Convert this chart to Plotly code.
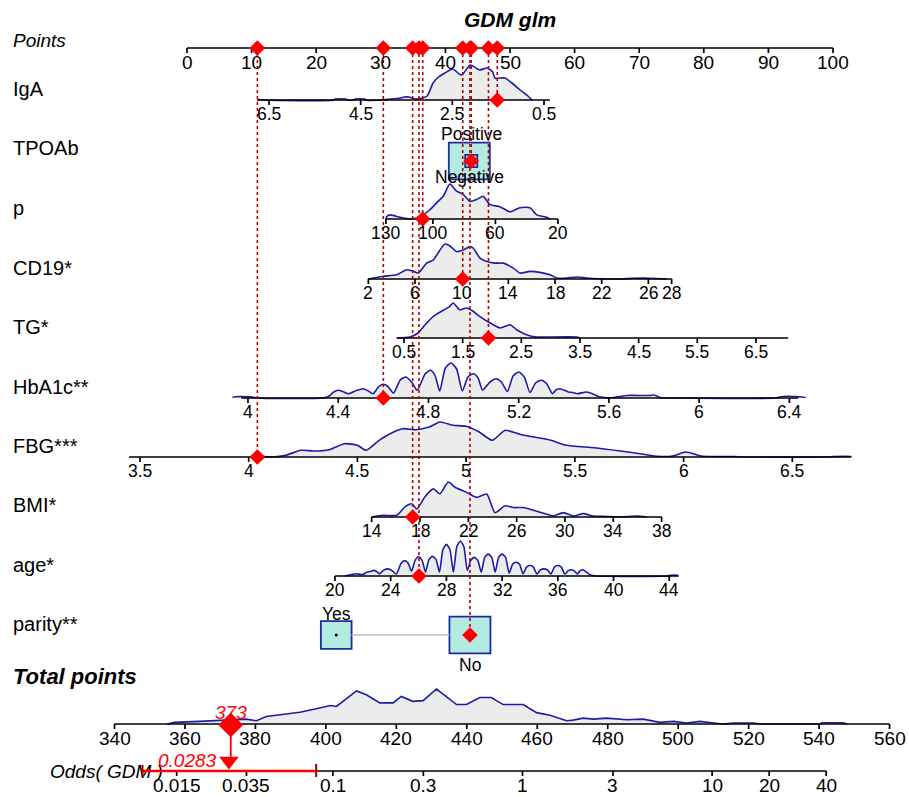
import numpy as np
import plotly.graph_objects as go

# ======================= DATA =======================
title_text = "GDM glm"
points_ticks = [0, 10, 20, 30, 40, 50, 60, 70, 80, 90, 100]

# Continuous predictors.  scale = [a, b] : points = a + b * value
iga_ticks = [6.5, 4.5, 2.5, 0.5]
iga_scale = [58.81, -7.095]
iga_lim = [6.76, 0.37]
iga_obs = 1.52
iga_dens_v = [6.74, 6.70, 6.62, 5.08, 5.06, 4.82, 4.80, 4.64, 4.62, 4.41, 4.39, 4.02, 3.85, 3.62, 3.55, 3.45,
              3.30, 3.20, 3.05, 2.92, 2.80, 2.66, 2.49, 2.35, 2.29, 2.11, 1.95, 1.90, 1.74, 1.62, 1.57, 1.35,
              1.20, 1.02, 0.85, 0.76]
iga_dens_h = [0, 0.5, 0, 0, 1, 1, 0, 0, 1, 1, 0, 0, 1, 2, 3, 3, 1, 1.5, 4, 17, 23, 27, 31, 26, 25, 35, 31, 30,
              32, 28, 22, 22, 17, 10, 4, 0]

p_ticks = [130, 100, 60, 20]
p_scale = [62.27, -0.2421]
p_lim = [130, 20]
p_obs = 106.5
p_dens_v = [130, 129.6, 127.4, 121, 114.7, 108.3, 101.9, 97.6, 93.4, 89.1, 84.8, 80.6, 76.3, 72.0, 67.8,
            63.5, 57.1, 50.7, 44.3, 37.9, 33.6, 27.2, 25.1]
p_dens_h = [0, 2.3, 4, 1.7, 0, 2.3, 9, 15.7, 22, 34, 27, 24, 17, 19, 22, 14, 12, 7, 11, 11, 4, 1.7, 0]

cd19_ticks = [2, 6, 10, 14, 18, 22, 26, 28]
cd19_scale = [24.46, 1.806]
cd19_lim = [2, 28]
cd19_obs = 10.09
cd19_dens_v = [2.0, 2.43, 3.29, 4.43, 5.29, 5.86, 6.28, 7.0, 7.57, 8.14, 8.57, 9.0, 9.57, 10.14, 10.71, 11.0,
               11.57, 12.15, 12.86, 13.57, 14.43, 15.0, 15.86, 16.71, 17.57, 18.14, 19.0, 19.86, 20.71, 21.85,
               23.5, 24.7, 26.1, 27.6]
cd19_dens_h = [0, 1, 2.7, 4.3, 9.3, 7.7, 6, 16, 19.3, 29.3, 35.3, 33.3, 27.7, 29.3, 32.7, 31, 21, 17.7, 16, 16,
               11, 6, 7.7, 6.7, 4.3, 1, 1, 2, 1, 0.3, 0, 0.7, 0.8, 0]

tg_ticks = [0.5, 1.5, 2.5, 3.5, 4.5, 5.5, 6.5]
tg_scale = [29.05, 9.08]
tg_lim = [0.376, 7.05]
tg_obs = 1.94
tg_dens_v = [0.38, 0.60, 0.74, 0.86, 1.0, 1.17, 1.28, 1.34, 1.45, 1.57, 1.68, 1.79, 1.97, 2.14, 2.31, 2.42,
             2.59, 2.76, 2.93, 3.44, 3.5]
tg_dens_h = [0, 1, 5, 13.3, 21.7, 27.7, 31.7, 35, 28.3, 30, 26.7, 21.7, 15, 10, 13.3, 8.3, 3.3, 1, 1, 1, 0]

hba_ticks = [4, 4.4, 4.8, 5.2, 5.6, 6, 6.4]
hba_scale = [-130.24, 34.92]
hba_lim = [3.97, 6.44]
hba_obs = 4.60
hba_dens_v = [3.935, 4.02, 4.04, 4.33, 4.36, 4.38, 4.40, 4.42, 4.445, 4.48, 4.51, 4.53, 4.555, 4.58, 4.60,
              4.62, 4.645, 4.675, 4.70, 4.725, 4.75, 4.785, 4.81, 4.83, 4.85, 4.875, 4.90, 4.925, 4.95, 4.975,
              5.00, 5.02, 5.04, 5.075, 5.10, 5.125, 5.15, 5.175, 5.20, 5.225, 5.25, 5.275, 5.30, 5.325, 5.35,
              5.365, 5.38, 5.40, 5.42, 5.44, 5.46, 5.50, 5.53, 5.55, 5.58, 5.62, 5.68, 5.78, 5.80, 5.83, 5.90,
              6.34, 6.37, 6.42, 6.47]
hba_dens_h = [1, 1, 0, 0, 2, 6, 7.7, 6.5, 4.3, 7.5, 9.3, 7.5, 4.3, 11.5, 13.7, 11.5, 5, 18, 21, 16, 7.7, 24,
              27.7, 22, 7, 30, 35, 29, 7, 21, 24.3, 20, 8, 16.5, 19.3, 15.5, 6.5, 22, 26, 21, 5.5, 15, 17.7, 14,
              4.3, 8, 9.3, 8, 6, 5.5, 4.3, 6, 4, 1.7, 0.5, 0.5, 2.5, 2.5, 3, 0.3, 0, 0, 1.5, 1.5, 0.5]

fbg_ticks = [3.5, 4, 4.5, 5, 5.5, 6, 6.5]
fbg_scale = [-125.09, 33.66]
fbg_lim = [3.45, 6.77]
fbg_obs = 4.04
fbg_dens_v = [4.02, 4.04, 4.11, 4.17, 4.24, 4.30, 4.37, 4.44, 4.50, 4.54, 4.60, 4.65, 4.71, 4.77, 4.83, 4.88,
              4.94, 5.00, 5.06, 5.12, 5.18, 5.25, 5.31, 5.39, 5.46, 5.59, 5.71, 5.83, 5.88, 5.95, 6.01, 6.08,
              6.14, 6.23, 6.29, 6.66, 6.69, 6.77]
fbg_dens_h = [0, 0.7, 0, 1.7, 6.7, 6, 7.3, 13.3, 11.7, 6.7, 16.7, 23.3, 28.3, 27.3, 30, 35, 31.7, 30.7, 25,
              16.7, 26.7, 22.5, 20, 16.7, 11.7, 9.3, 6, 2.3, 0.7, 1, 5, 1, 0.5, 0.5, 0, 0, 0.4, 0.4]

bmi_ticks = [14, 18, 22, 26, 30, 34, 38]
bmi_scale = [2.41, 1.870]
bmi_lim = [14, 38]
bmi_obs = 17.39
bmi_dens_v = [14.0, 14.96, 16.07, 16.76, 17.31, 17.73, 18.41, 19.10, 19.65, 20.34, 20.90, 21.86, 22.69, 23.52,
              24.21, 25.03, 25.72, 26.55, 27.38, 28.35, 29.03, 29.86, 30.69, 31.52, 32.34, 33.45, 34.55, 35.94,
              36.76]
bmi_dens_h = [0, 1.7, 1.7, 10, 13, 8, 20, 27.7, 23, 34.5, 29.3, 24.3, 19.3, 22.7, 4.3, 11, 9.3, 9.3, 6.7, 3.3,
              1, 4.3, 1, 3.3, 1, 0.5, 0, 1, 0]

age_ticks = [20, 24, 28, 32, 36, 40, 44]
age_scale = [-20.21, 2.156]
age_lim = [20, 44.66]
age_obs = 26.03
age_dens_v = [20.7, 21.2, 21.5, 21.8, 22.0, 22.3, 22.55, 22.8, 23.0, 23.2, 23.5, 23.8, 24.1, 24.4, 24.75, 25.0,
              25.25, 25.5, 25.75, 26.0, 26.25, 26.5, 26.75, 27.0, 27.25, 27.5, 27.75, 28.0, 28.25, 28.5, 28.75,
              29.0, 29.25, 29.5, 29.75, 30.0, 30.25, 30.5, 30.75, 31.0, 31.25, 31.5, 31.75, 32.0, 32.25, 32.5,
              32.75, 33.0, 33.25, 33.5, 33.75, 34.0, 34.25, 34.5, 34.75, 35.0, 35.25, 35.5, 35.75, 36.0, 36.25,
              36.5, 36.75, 37.0, 37.2, 37.4, 37.6, 37.8, 38.05, 38.4, 38.7, 43.9, 44.1, 44.6]
age_dens_h = [0, 1.5, 2.3, 1.8, 1.5, 4, 4.5, 5.7, 4.5, 2.3, 6, 7.3, 5.5, 2, 13, 15.7, 13, 5, 16, 19.7, 16, 4, 17,
              20, 17, 4, 27, 32.3, 27, 4, 30, 35.7, 30, 5.7, 16, 19, 16, 4, 19, 22.3, 19, 4, 19, 22.3, 19, 3, 12,
              14, 12, 2.3, 9, 10.7, 9, 2, 6.3, 7.3, 6.3, 2, 9, 10.7, 9, 2, 5.5, 6.3, 5, 2, 5.5, 6.3, 4, 0.7, 0,
              0, 0.7, 0.7]

# Categorical predictors
tpo_levels = ["Positive", "Negative"]
tpo_points = [44.0, 43.7]
tpo_freq = [0.08, 0.92]
tpo_obs = "Positive"

par_levels = ["Yes", "No"]
par_points = [23.1, 43.8]
par_freq = [0.36, 0.64]
par_obs = "No"

# Total points and odds
total_ticks = [340, 360, 380, 400, 420, 440, 460, 480, 500, 520, 540, 560]
total_obs = 373
total_dens_v = [355, 357.0, 364.1, 371.7, 377.4, 380.3, 383.1, 385.9, 392.6, 396.3, 401.3, 403.0, 408.7, 411.5,
                415.3, 419.1, 421.4, 424.7, 427.6, 431.4, 434.2, 437.1, 439.9, 443.7, 447.0, 450.3, 456.0, 459.8,
                463.6, 468.3, 470.2, 473.0, 475.9, 479.7, 485.4, 490.1, 494.8, 498.7, 502.4, 506.2, 510.0, 512.7,
                515.7, 521.3, 523.3, 540.3, 540.8, 546.8, 548.0]
total_dens_h = [0, 1.7, 2.7, 4.3, 5, 3.3, 7.7, 9, 12, 15, 19, 18, 34, 30, 21.7, 21.7, 28.3, 23.3, 24, 36, 28.3,
                20, 20, 27.3, 27.3, 20, 20, 11.7, 9, 3.3, 4, 6, 5, 6, 4.3, 5, 1.7, 2.7, 1, 2.7, 1, 0, 1, 1, 0, 0,
                1.3, 1.3, 0]

odds_ticks = [0.015, 0.035, 0.1, 0.3, 1, 3, 10, 20, 40]
odds_lim = [0.0099, 40]
odds_obs = 0.0283
odds_ci = [0.0099, 0.0816]

# ======================= STYLE / LAYOUT =======================
W, H = 909, 797
FONT = "Liberation Sans, Arial, sans-serif"
PX0, PXS = 187.0, 6.46            # pixel of 0 points, pixels per point
TOT0, TOTS = 114.5, 3.523          # pixel of 340 total points, pixels per total point
ODD1, ODDS = 522.5, 189.6          # pixel of odds 1, pixels per decade
DENS_MAX = 35
DENS_FILL = "#ECECEC"
DENS_LINE = "#1C1CA8"
BOX_FILL = "#B4EBE1"
BOX_LINE = "#1F2A9E"
RED = "#FF0000"
DOT_RED = "#B50000"
BIG_BOX = 41
AXW = 1.7

rows = {"Points": 48, "IgA": 100, "TPOAb": 161, "p": 219, "CD19*": 279, "TG*": 338, "HbA1c**": 398,
        "FBG***": 457, "BMI*": 517, "age*": 576, "parity**": 635, "Total": 724, "Odds": 771}
label_y = {"IgA": 89, "TPOAb": 148, "p": 208, "CD19*": 268, "TG*": 327, "HbA1c**": 387, "FBG***": 446,
           "BMI*": 505, "age*": 565, "parity**": 624}
cat_label_dy = {"Positive": -27, "Negative": 16, "Yes": -21, "No": 30}

fig = go.Figure()


def pts(scale, v):
    return scale[0] + scale[1] * np.asarray(v, dtype=float)


def fmt(v):
    return f"{v:g}"


def txt(x, y, s, size, xref="x", color="black", xanchor="center", yanchor="middle"):
    fig.add_annotation(x=x, y=y, xref=xref, yref="y", text=s, showarrow=False,
                       font=dict(family=FONT, size=size, color=color),
                       xanchor=xanchor, yanchor=yanchor)


def density(xs, base, hs, xaxis="x", shape="spline", smoothing=0.7):
    hs = np.asarray(hs, dtype=float)
    ys = base - DENS_MAX * hs / hs.max()
    x = [xs[0]] + list(xs) + [xs[-1]]
    y = [base] + list(ys) + [base]
    fig.add_trace(go.Scatter(x=x, y=y, mode="lines", fill="toself", fillcolor=DENS_FILL,
                             line=dict(color=DENS_LINE, width=1.6, shape=shape, smoothing=smoothing),
                             xaxis=xaxis, yaxis="y", hoverinfo="skip", showlegend=False))


def axis(line_x, base, tick_x, tick_text, xaxis="x", size=17, ann_x=None):
    xs = [line_x[0], line_x[1], None]
    ys = [base, base, None]
    for t in tick_x:
        xs += [t, t, None]
        ys += [base, base + 5, None]
    fig.add_trace(go.Scatter(x=xs, y=ys, mode="lines", line=dict(color="black", width=AXW),
                             xaxis=xaxis, yaxis="y", hoverinfo="skip", showlegend=False))
    ax = tick_x if ann_x is None else ann_x
    for t, s in zip(ax, tick_text):
        txt(t, base + 14, s, size, xref=xaxis)


continuous = [
    ("IgA", iga_ticks, iga_scale, iga_lim, iga_obs, iga_dens_v, iga_dens_h),
    ("p", p_ticks, p_scale, p_lim, p_obs, p_dens_v, p_dens_h),
    ("CD19*", cd19_ticks, cd19_scale, cd19_lim, cd19_obs, cd19_dens_v, cd19_dens_h),
    ("TG*", tg_ticks, tg_scale, tg_lim, tg_obs, tg_dens_v, tg_dens_h),
    ("HbA1c**", hba_ticks, hba_scale, hba_lim, hba_obs, hba_dens_v, hba_dens_h),
    ("FBG***", fbg_ticks, fbg_scale, fbg_lim, fbg_obs, fbg_dens_v, fbg_dens_h),
    ("BMI*", bmi_ticks, bmi_scale, bmi_lim, bmi_obs, bmi_dens_v, bmi_dens_h),
    ("age*", age_ticks, age_scale, age_lim, age_obs, age_dens_v, age_dens_h),
]
categorical = [
    ("TPOAb", tpo_levels, tpo_points, tpo_freq, tpo_obs),
    ("parity**", par_levels, par_points, par_freq, par_obs),
]

# ---- densities ----
for name, ticks, scale, lim, obs, dv, dh in continuous:
    density(list(pts(scale, dv)), rows[name], dh, smoothing=0.6)
density(total_dens_v, rows["Total"], total_dens_h, xaxis="x2", shape="linear")

# ---- categorical boxes ----
obs_points = {}
for name, levels, lp, freq, obs in categorical:
    yb = rows[name]
    fmax = max(freq)
    order = np.argsort(lp)
    sizes = [BIG_BOX * np.sqrt(f / fmax) for f in freq]
    if abs(lp[order[-1]] - lp[order[0]]) * PXS > (sizes[order[0]] + sizes[order[-1]]) / 2:
        xa = lp[order[0]] + sizes[order[0]] / 2 / PXS
        xb = lp[order[-1]] - sizes[order[-1]] / 2 / PXS
        fig.add_trace(go.Scatter(x=[xa, xb], y=[yb, yb], mode="lines", line=dict(color="#BDBDBD", width=1.5),
                                 hoverinfo="skip", showlegend=False))
    for i in sorted(range(len(levels)), key=lambda k: -freq[k]):
        s = sizes[i]
        hgt = 0.9 * s if s > 20 else s
        fig.add_shape(type="rect", xref="x", yref="y", layer="below",
                      x0=lp[i] - s / 2 / PXS, x1=lp[i] + s / 2 / PXS, y0=yb - hgt / 2, y1=yb + hgt / 2,
                      fillcolor=BOX_FILL, line=dict(color=BOX_LINE, width=1.8))
    fig.add_trace(go.Scatter(x=lp, y=[yb] * len(lp), mode="markers", marker=dict(color="black", size=3),
                             hoverinfo="skip", showlegend=False))
    for lev, p in zip(levels, lp):
        txt(p, yb + cat_label_dy[lev], lev, 17.5)
    obs_points[name] = lp[levels.index(obs)]

# ---- axes ----
axis([points_ticks[0], points_ticks[-1]], rows["Points"], points_ticks, [fmt(t) for t in points_ticks], size=19)
for name, ticks, scale, lim, obs, dv, dh in continuous:
    axis(list(pts(scale, lim)), rows[name], list(pts(scale, ticks)), [fmt(t) for t in ticks], size=17.5)
    obs_points[name] = float(pts(scale, obs))
axis([total_ticks[0], total_ticks[-1]], rows["Total"], total_ticks, [fmt(t) for t in total_ticks],
     xaxis="x2", size=19)

# odds label (drawn under the CI bar)
fig.add_trace(go.Scatter(x=[(50 - PX0) / PXS], y=[rows["Odds"] + 2], mode="text", text=["<i>Odds( GDM )</i>"],
                         textposition="middle right", textfont=dict(family=FONT, size=19, color="black"),
                         hoverinfo="skip", showlegend=False))
axis(odds_lim, rows["Odds"], odds_ticks, [fmt(t) for t in odds_ticks], xaxis="x3", size=19,
     ann_x=[np.log10(t) for t in odds_ticks])

# ---- dotted red guide lines + red points ----
order_names = ["IgA", "TPOAb", "p", "CD19*", "TG*", "HbA1c**", "FBG***", "BMI*", "age*", "parity**"]
gx, gy = [], []
for n in order_names:
    gx += [obs_points[n], obs_points[n], None]
    gy += [rows["Points"], rows[n], None]
fig.add_trace(go.Scatter(x=gx, y=gy, mode="lines", line=dict(color=DOT_RED, width=1.6, dash="dot"),
                         hoverinfo="skip", showlegend=False))
fig.add_trace(go.Scatter(x=[obs_points[n] for n in order_names], y=[rows["Points"]] * len(order_names),
                         mode="markers", marker=dict(symbol="diamond", color=RED, size=12),
                         hoverinfo="skip", showlegend=False))
fig.add_trace(go.Scatter(x=[obs_points[n] for n in order_names], y=[rows[n] for n in order_names],
                         mode="markers", marker=dict(symbol="diamond", color=RED, size=12),
                         hoverinfo="skip", showlegend=False))

# ---- total points -> odds ----
fig.add_trace(go.Scatter(x=odds_ci, y=[rows["Odds"]] * 2, mode="lines", line=dict(color=RED, width=2.5),
                         xaxis="x3", hoverinfo="skip", showlegend=False))
fig.add_trace(go.Scatter(x=[odds_ci[0], odds_ci[0], None, odds_ci[1], odds_ci[1]],
                         y=[rows["Odds"] - 6, rows["Odds"] + 6, None, rows["Odds"] - 7, rows["Odds"] + 6],
                         mode="lines", line=dict(color="#A00000", width=2), xaxis="x3",
                         hoverinfo="skip", showlegend=False))
fig.add_trace(go.Scatter(x=[total_obs, total_obs], y=[rows["Total"], rows["Odds"] - 14], mode="lines",
                         line=dict(color=RED, width=1.8), xaxis="x2", hoverinfo="skip", showlegend=False))
fig.add_trace(go.Scatter(x=[total_obs], y=[rows["Total"] + 1], mode="markers",
                         marker=dict(symbol="diamond", color=RED, size=19), xaxis="x2",
                         hoverinfo="skip", showlegend=False))
fig.add_trace(go.Scatter(x=[odds_obs], y=[rows["Odds"] - 10], mode="markers",
                         marker=dict(symbol="triangle-down", color=RED, size=17), xaxis="x3",
                         hoverinfo="skip", showlegend=False))
txt(total_obs, rows["Total"] - 12, f"<i>{total_obs}</i>", 19, xref="x2", color=RED)
txt(np.log10(odds_obs) - 0.22, rows["Odds"] - 11, f"<i>{odds_obs}</i>", 19, xref="x3", color=RED)

# ---- labels ----
txt(50, 19, f"<b><i>{title_text}</i></b>", 21)
txt(11 / W, 40, "<i>Points</i>", 19, xref="paper", xanchor="left")
for n in order_names:
    txt(11 / W, label_y[n], n, 20, xref="paper", xanchor="left")
txt(11 / W, 676, "<b><i>Total points</i></b>", 22, xref="paper", xanchor="left")

fig.update_layout(
    width=W, height=H, margin=dict(l=0, r=0, t=0, b=0),
    paper_bgcolor="white", plot_bgcolor="white", showlegend=False, hovermode=False,
    xaxis=dict(range=[-PX0 / PXS, (W - PX0) / PXS], visible=False, fixedrange=True),
    xaxis2=dict(range=[340 - TOT0 / TOTS, 340 + (W - TOT0) / TOTS], overlaying="x", anchor="y",
                visible=False, fixedrange=True),
    xaxis3=dict(type="log", range=[(0 - ODD1) / ODDS, (W - ODD1) / ODDS], overlaying="x", anchor="y",
                visible=False, fixedrange=True),
    yaxis=dict(range=[H, 0], visible=False, fixedrange=True),
)

fig.write_html("out.html")
